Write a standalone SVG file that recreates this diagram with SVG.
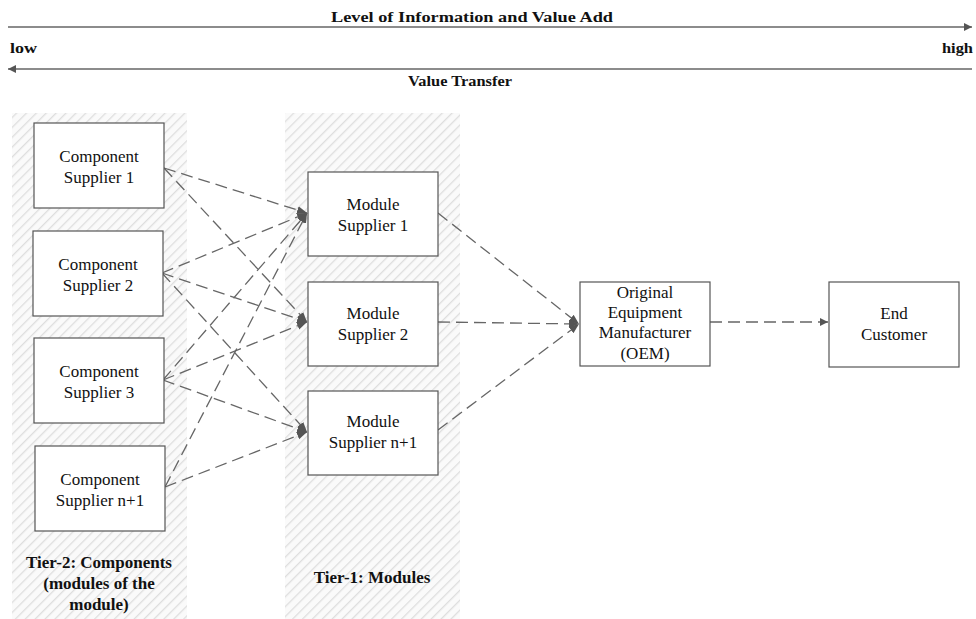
<svg xmlns="http://www.w3.org/2000/svg" width="976" height="619" viewBox="0 0 976 619">
<style>
.box{fill:#fff;stroke:#555;stroke-width:1.2}
text{font-family:'Liberation Serif','DejaVu Serif','Times New Roman',serif}
.t{font-size:17px;fill:#111;text-anchor:middle}
.b{font-size:15px;font-weight:bold;fill:#111}
.tb{font-size:17px;font-weight:bold;fill:#111;text-anchor:middle}
.c{fill:none;stroke:#666;stroke-width:1.3;stroke-dasharray:12 6}
.axis{fill:none;stroke:#666;stroke-width:1.4}
</style>
<defs>
<pattern id="hatch" width="7" height="7" patternUnits="userSpaceOnUse" patternTransform="rotate(45)">
<rect width="7" height="7" fill="#fafafa"/>
<line x1="0" y1="0" x2="0" y2="7" stroke="#dedede" stroke-width="2.6"/>
</pattern>
<marker id="ah" viewBox="0 0 10 10" refX="10" refY="5" markerWidth="8" markerHeight="8" markerUnits="userSpaceOnUse" orient="auto">
<path d="M0,0 L10,5 L0,10 Z" fill="#555"/>
</marker>
<marker id="ah2" viewBox="0 0 10 10" refX="10" refY="5" markerWidth="10" markerHeight="10" markerUnits="userSpaceOnUse" orient="auto">
<path d="M0,1 L10,5 L0,9 Z" fill="#555"/>
</marker>
</defs>
<rect width="976" height="619" fill="#fff"/>

<g id="header">
<text class="b" x="472" y="22" text-anchor="middle" textLength="282" lengthAdjust="spacingAndGlyphs">Level of Information and Value Add</text>
<line class="axis" x1="8" y1="27" x2="972" y2="27" marker-end="url(#ah)"/>
<text class="b" x="10" y="53" textLength="27" lengthAdjust="spacingAndGlyphs">low</text>
<text class="b" x="973" y="53" text-anchor="end" textLength="31" lengthAdjust="spacingAndGlyphs">high</text>
<line class="axis" x1="972" y1="69" x2="8" y2="69" marker-end="url(#ah)"/>
<text class="b" x="460" y="86" text-anchor="middle" textLength="104" lengthAdjust="spacingAndGlyphs">Value Transfer</text>
</g>

<g id="tier2">
<rect x="12" y="113" width="175" height="506" fill="url(#hatch)"/>
<text class="tb" x="99" y="568">Tier-2: Components</text>
<text class="tb" x="99" y="589">(modules of the</text>
<text class="tb" x="99" y="610">module)</text>
</g>
<g id="tier1">
<rect x="285" y="113" width="175" height="506" fill="url(#hatch)"/>
<text class="tb" x="372" y="583">Tier-1: Modules</text>
</g>

<g id="connectors">
<line class="c" x1="164" y1="168" x2="307" y2="213" marker-end="url(#ah2)"/>
<line class="c" x1="164" y1="168" x2="307" y2="322" marker-end="url(#ah2)"/>
<line class="c" x1="162" y1="273" x2="307" y2="213" marker-end="url(#ah2)"/>
<line class="c" x1="162" y1="273" x2="307" y2="322" marker-end="url(#ah2)"/>
<line class="c" x1="162" y1="273" x2="307" y2="432" marker-end="url(#ah2)"/>
<line class="c" x1="163" y1="380" x2="307" y2="213" marker-end="url(#ah2)"/>
<line class="c" x1="163" y1="380" x2="307" y2="322" marker-end="url(#ah2)"/>
<line class="c" x1="163" y1="380" x2="307" y2="432" marker-end="url(#ah2)"/>
<line class="c" x1="165" y1="487" x2="307" y2="213" marker-end="url(#ah2)"/>
<line class="c" x1="165" y1="487" x2="307" y2="432" marker-end="url(#ah2)"/>
<line class="c" x1="438" y1="213" x2="579" y2="324" marker-end="url(#ah2)"/>
<line class="c" x1="438" y1="322" x2="579" y2="324" marker-end="url(#ah2)"/>
<line class="c" x1="438" y1="430" x2="579" y2="324" marker-end="url(#ah2)"/>
<line class="c" x1="710" y1="322" x2="828" y2="322" marker-end="url(#ah)"/>
</g>

<g id="c1"><rect class="box" x="34" y="123" width="130" height="85"/>
<text class="t" x="99" y="162">Component</text><text class="t" x="99" y="183">Supplier 1</text></g>
<g id="c2"><rect class="box" x="33" y="231" width="130" height="85"/>
<text class="t" x="98" y="270">Component</text><text class="t" x="98" y="291">Supplier 2</text></g>
<g id="c3"><rect class="box" x="34" y="338" width="130" height="85"/>
<text class="t" x="99" y="377">Component</text><text class="t" x="99" y="398">Supplier 3</text></g>
<g id="c4"><rect class="box" x="35" y="446" width="130" height="85"/>
<text class="t" x="100" y="485">Component</text><text class="t" x="100" y="506">Supplier n+1</text></g>

<g id="m1"><rect class="box" x="308" y="172" width="130" height="84"/>
<text class="t" x="373" y="210">Module</text><text class="t" x="373" y="231">Supplier 1</text></g>
<g id="m2"><rect class="box" x="308" y="282" width="130" height="84"/>
<text class="t" x="373" y="319">Module</text><text class="t" x="373" y="340">Supplier 2</text></g>
<g id="m3"><rect class="box" x="308" y="391" width="130" height="84"/>
<text class="t" x="373" y="427">Module</text><text class="t" x="373" y="448">Supplier n+1</text></g>

<g id="oem"><rect class="box" x="580" y="282" width="130" height="84"/>
<text class="t" x="645" y="298">Original</text><text class="t" x="645" y="318">Equipment</text>
<text class="t" x="645" y="338">Manufacturer</text><text class="t" x="645" y="359">(OEM)</text></g>

<g id="end"><rect class="box" x="829" y="282" width="130" height="85"/>
<text class="t" x="894" y="319">End</text><text class="t" x="894" y="340">Customer</text></g>
</svg>
